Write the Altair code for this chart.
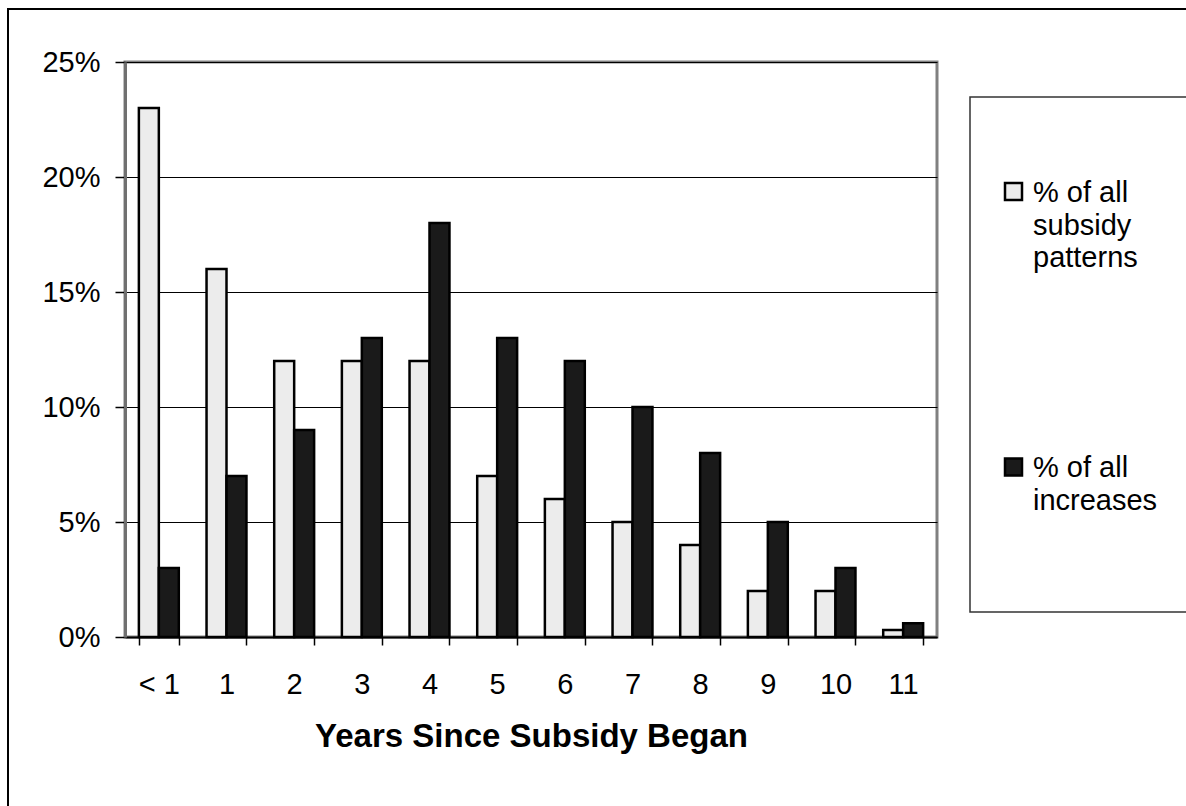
import altair as alt
import pandas as pd

# ---- data -------------------------------------------------------------
categories = ["< 1", "1", "2", "3", "4", "5", "6", "7", "8", "9", "10", "11"]
series_names = ["% of all subsidy patterns", "% of all increases"]
patterns = [0.23, 0.16, 0.12, 0.12, 0.12, 0.07, 0.06, 0.05, 0.04, 0.02, 0.02, 0.003]
increases = [0.03, 0.07, 0.09, 0.13, 0.18, 0.13, 0.12, 0.10, 0.08, 0.05, 0.03, 0.006]
y_ticks = [0, 0.05, 0.10, 0.15, 0.20, 0.25]
legend_lines = [["% of all", "subsidy", "patterns"], ["% of all", "increases"]]

rows = []
for c, a, b in zip(categories, patterns, increases):
    rows.append({"year": c, "series": series_names[0], "value": a})
    rows.append({"year": c, "series": series_names[1], "value": b})
df = pd.DataFrame(rows)

FONT = "Liberation Sans"
LIGHT = "#ececec"
DARK = "#1a1a1a"

bars = alt.Chart(df).mark_bar(stroke="black", strokeWidth=2.5).encode(
    x=alt.X(
        "year:N",
        sort=categories,
        scale=alt.Scale(paddingInner=0.41, paddingOuter=0.205),
        axis=alt.Axis(
            title="Years Since Subsidy Began",
            labelAngle=0,
            labelFontSize=29,
            labelFont=FONT,
            labelColor="black",
            labelBaseline="alphabetic",
            labelPadding=48,
            tickBand="extent",
            tickSize=8,
            tickColor="black",
            tickWidth=1.5,
            domainColor="black",
            domainWidth=2,
            titleFont=FONT,
            titleFontSize=33,
            titleFontWeight="bold",
            titleColor="black",
            titleBaseline="alphabetic",
            titleY=109,
            grid=False,
        ),
    ),
    xOffset=alt.XOffset("series:N", sort=series_names,
                        scale=alt.Scale(domain=series_names)),
    y=alt.Y(
        "value:Q",
        scale=alt.Scale(domain=[0, 0.25], nice=False),
        axis=alt.Axis(
            title=None,
            values=y_ticks,
            format=".0%",
            labelFontSize=29,
            labelFont=FONT,
            labelColor="black",
            labelPadding=15,
            tickSize=10,
            tickColor="black",
            tickWidth=1.5,
            domainColor="#707070",
            domainWidth=3,
            grid=True,
            gridColor="black",
            gridWidth=1,
        ),
    ),
    color=alt.Color("series:N", sort=series_names,
                    scale=alt.Scale(domain=series_names, range=[LIGHT, DARK]),
                    legend=None),
)

# outer frame of the whole picture
frame = alt.Chart(pd.DataFrame({"k": [0]})).mark_rect(
    fill=None, stroke="black", strokeWidth=2
).encode(x=alt.value(-117), x2=alt.value(1080), y=alt.value(-53), y2=alt.value(760))

# legend box
legend_box = alt.Chart(pd.DataFrame({"k": [0]})).mark_rect(
    fill="white", stroke="#333333", strokeWidth=1.5
).encode(x=alt.value(845), x2=alt.value(1080), y=alt.value(35), y2=alt.value(550))

layers = [frame, bars, legend_box]

symbol_tops = [121, 396.5]
first_baselines = [140, 415]
line_height = 32.5
fills = [LIGHT, DARK]
for i, lines in enumerate(legend_lines):
    layers.append(
        alt.Chart(pd.DataFrame({"k": [0]})).mark_rect(
            fill=fills[i], stroke="black", strokeWidth=2.5
        ).encode(x=alt.value(880), x2=alt.value(897),
                 y=alt.value(symbol_tops[i]), y2=alt.value(symbol_tops[i] + 17))
    )
    for j, t in enumerate(lines):
        layers.append(
            alt.Chart(pd.DataFrame({"t": [t]})).mark_text(
                align="left", baseline="alphabetic", font=FONT, fontSize=29,
                color="black"
            ).encode(text="t:N", x=alt.value(908),
                     y=alt.value(first_baselines[i] + j * line_height))
        )

chart = alt.layer(*layers).properties(
    width=812,
    height=575,
    autosize=alt.AutoSizeParams(type="none"),
    padding={"left": 125, "top": 62, "right": 249, "bottom": 169},
    background="white",
).configure_view(stroke="#808080", strokeWidth=3)

chart.save("out.html", embed_options={"renderer": "svg", "actions": False})
